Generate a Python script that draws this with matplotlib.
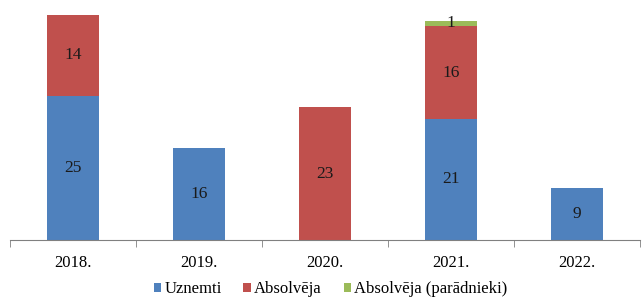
import numpy as np
import matplotlib.pyplot as plt

years = ['2018.', '2019.', '2020.', '2021.', '2022.']
uznemti = [25, 16, 0, 21, 9]
absolveja = [14, 0, 23, 16, 0]
paradnieki = [0, 0, 0, 1, 0]

plt.rcParams['font.family'] = ['Liberation Serif', 'DejaVu Serif']

fig = plt.figure(figsize=(6.42, 2.99), dpi=100)
ax = fig.add_axes([10 / 642, 59 / 299, 630 / 642, 231 / 299])

x = np.arange(len(years))
w = 0.41
series = [
    (uznemti, 'Uznemti', '#4F81BD'),
    (absolveja, 'Absolvēja', '#C0504D'),
    (paradnieki, 'Absolvēja (parādnieki)', '#9BBB59'),
]
bottom = np.zeros(len(years))
for vals, name, col in series:
    vals = np.array(vals, dtype=float)
    bars = ax.bar(x, vals, w, bottom=bottom, color=col, label=name)
    for b, v, b0 in zip(bars, vals, bottom):
        if v > 0:
            ax.text(b.get_x() + b.get_width() / 2, b0 + v / 2, f'{int(v)}',
                    ha='center', va='center', fontsize=12.5, color='#1a1a1a')
    bottom += vals

ax.set_xlim(-0.5, len(years) - 0.5)
ax.set_ylim(0, 40)
ax.set_yticks([])
ax.set_xticks(x)
ax.set_xticklabels(years, fontsize=12)
ax.tick_params(axis='x', which='major', length=0, pad=11)
ax.set_xticks(np.arange(-0.5, len(years)), minor=True)
ax.tick_params(axis='x', which='minor', length=5, color='#808080')
for s in ['top', 'right', 'left']:
    ax.spines[s].set_visible(False)
ax.spines['bottom'].set_color('#808080')

fig.legend(loc='lower center', bbox_to_anchor=(0.515, -0.045), ncol=3, frameon=False,
           fontsize=12, handlelength=0.45, handleheight=0.45, handletextpad=0.2,
           columnspacing=1.3)

fig.savefig('out.png', dpi=100)
